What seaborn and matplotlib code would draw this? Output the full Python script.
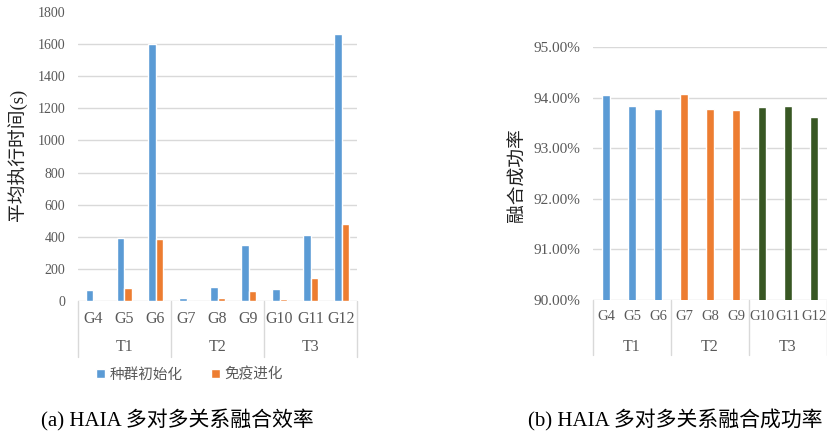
import pandas as pd
import numpy as np
import matplotlib.pyplot as plt
import seaborn as sns

# data
g_labels = ["G4", "G5", "G6", "G7", "G8", "G9", "G10", "G11", "G12"]
t_groups = ["T1", "T2", "T3"]
init_time = [70, 395, 1600, 18, 85, 350, 77, 411, 1660]      # 种群初始化
immune_time = [0, 80, 385, 0, 17, 62, 10, 145, 480]          # 免疫进化
success_rate = [0.9405, 0.9383, 0.9378, 0.9407, 0.9378, 0.9375, 0.9381, 0.9383, 0.9362]

series_names = ["种群初始化", "免疫进化"]
blue, orange, green = "#5B9BD5", "#ED7D31", "#385723"

sns.set_theme(style="white")
plt.rcParams['font.family'] = ['Liberation Serif', 'Noto Sans CJK SC']

group_of = [t for t in t_groups for _ in range(3)]
df_time = pd.DataFrame({
    "g": g_labels * 2,
    "v": init_time + immune_time,
    "s": [series_names[0]] * 9 + [series_names[1]] * 9,
})
df_rate = pd.DataFrame({"g": g_labels, "v": success_rate, "t": group_of})

fig = plt.figure(figsize=(8.28, 4.34), dpi=100)
W, H = 828, 434
ax1 = fig.add_axes([78 / W, 1 - 301 / H, 279 / W, 289 / H])
ax2 = fig.add_axes([593 / W, 1 - 300 / H, 234 / W, 253 / H])

grey = "#595959"
grid_c = "#D9D9D9"

# (a) execution time
sns.barplot(data=df_time, x="g", y="v", hue="s", palette=[blue, orange],
            width=0.5, saturation=1, ax=ax1)
ax1.set_ylim(0, 1800)
ax1.set_yticks(range(0, 1801, 200))
ax1.set_xlim(-0.5, 8.5)
ax1.yaxis.grid(True, color=grid_c, lw=1)
ax1.set_axisbelow(True)
ax1.get_ygridlines()[-1].set_visible(False)
ax1.tick_params(axis='y', length=0, pad=9, labelsize=10, labelcolor=grey)
ax1.set_xlabel("")
ax1.set_ylabel("")
sns.move_legend(ax1, "center", bbox_to_anchor=(0.40, -0.255), ncol=2, frameon=False,
                handlelength=0.6, handleheight=0.6, handletextpad=0.3,
                columnspacing=2.0, fontsize=10.5, labelcolor=grey, title=None)

# (b) success rate
sns.barplot(data=df_rate, x="g", y="v", hue="t", palette=[blue, orange, green],
            width=0.3, dodge=False, saturation=1, legend=False, ax=ax2)
ax2.set_ylim(0.90, 0.95)
ax2.set_yticks(np.arange(0.90, 0.9501, 0.01))
ax2.set_yticklabels([f"{v * 100:.2f}%" for v in np.arange(0.90, 0.9501, 0.01)])
ax2.set_xlim(-0.5, 8.5)
ax2.yaxis.grid(True, color=grid_c, lw=1)
ax2.set_axisbelow(True)
ax2.tick_params(axis='y', length=0, pad=9, labelsize=11, labelcolor=grey)
ax2.set_xlabel("")
ax2.set_ylabel("")

for ax, h_px, lbl_off, sep_off, gsize in [(ax1, 289, 46, 56, 11.5), (ax2, 253, 47, 55, 10.5)]:
    ax.tick_params(axis='x', length=0, pad=7, labelsize=gsize, labelcolor=grey)
    for sp in ax.spines.values():
        sp.set_visible(False)
    tr = ax.get_xaxis_transform()
    for i, t in enumerate(t_groups):
        ax.annotate(t, xy=(3 * i + 1, 0), xycoords=tr, xytext=(0, -lbl_off * 0.72),
                    textcoords='offset points', ha='center', va='center',
                    fontsize=11.5, color=grey)
    for x in [-0.5, 2.5, 5.5, 8.5]:
        ax.plot([x, x], [0, -sep_off / h_px], transform=tr, color=grid_c,
                lw=1, clip_on=False)

fig.text(18 / W, 1 - 155 / H, "平均执行时间(s)", rotation=90, ha='center', va='center',
         fontsize=13.5, color="#222222")
fig.text(518 / W, 1 - 175 / H, "融合成功率", rotation=90, ha='center', va='center',
         fontsize=13.5, color="#222222")

fig.text(177 / W, 1 - 420 / H, "(a) HAIA 多对多关系融合效率", ha='center', va='center',
         fontsize=15, color="black")
fig.text(675 / W, 1 - 420 / H, "(b) HAIA 多对多关系融合成功率", ha='center', va='center',
         fontsize=15, color="black")

fig.savefig("out.png", dpi=100)
